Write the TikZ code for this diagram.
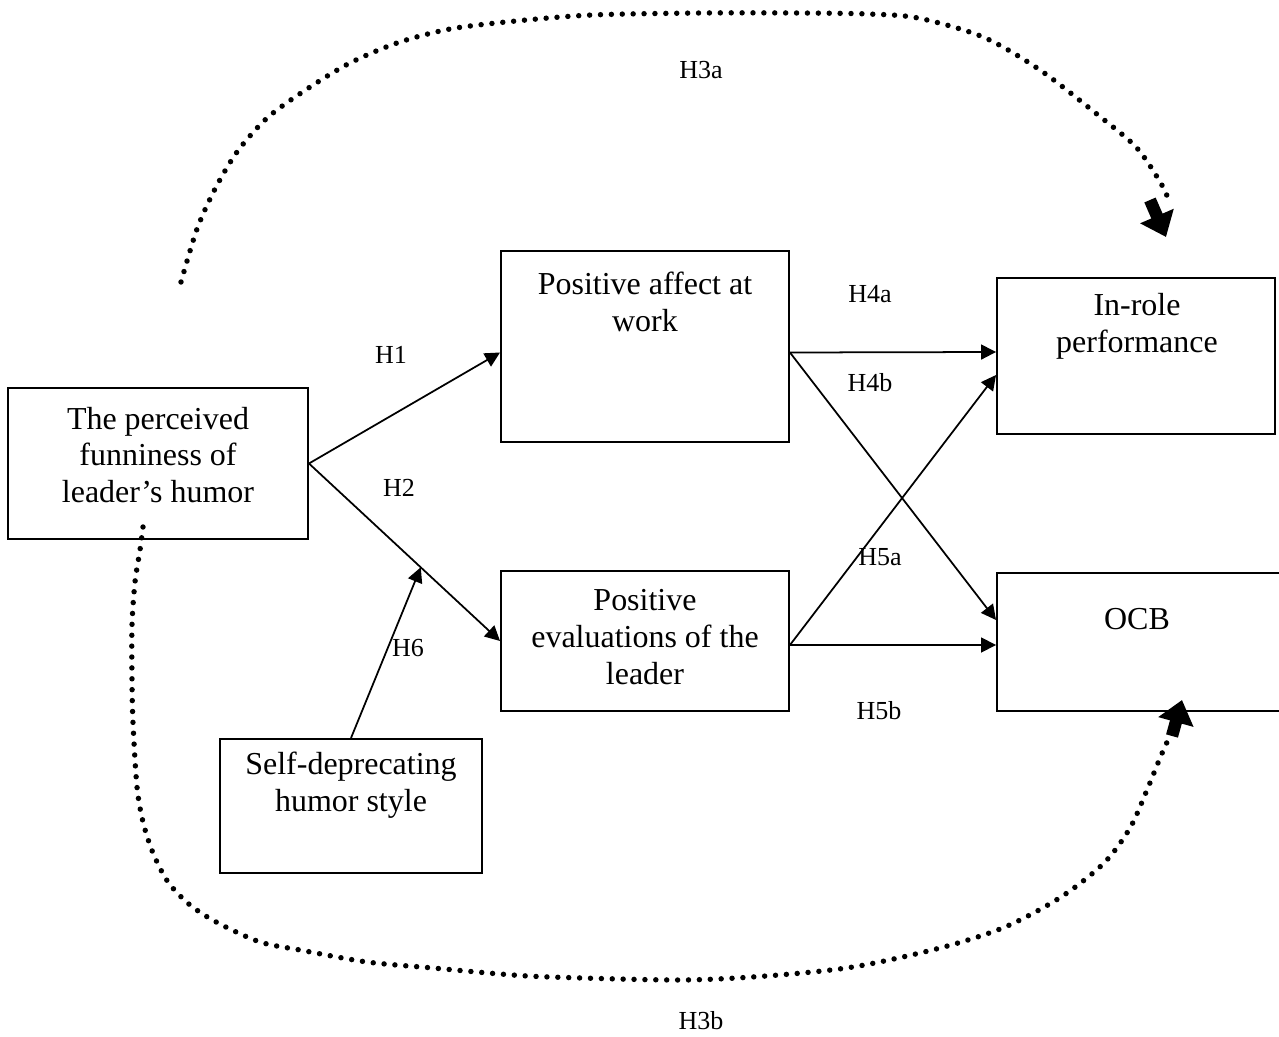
\documentclass[tikz,border=0pt]{standalone}
\usepackage{fontspec}
\setmainfont{Liberation Serif}
\usetikzlibrary{arrows.meta,fit,calc}
\begin{document}
\begin{tikzpicture}[x=0.02cm,y=-0.02cm,
  box/.style={draw,line width=1.1pt,inner sep=0pt},
  txt/.style={align=center,inner sep=0pt,font=\fontsize{18.2pt}{21pt}\selectfont},
  lab/.style={inner sep=0pt,font=\fontsize{14.8pt}{17pt}\selectfont},
  conn/.style={line width=1pt,-{Triangle[width=8.5pt,length=8.5pt]}},
  dotline/.style={line width=3.1pt,line cap=round,dash pattern=on 0pt off 6.2pt},
  fatarrow/.style={line width=7pt,-{Triangle[width=20pt,length=13pt]}}]
\useasboundingbox (0,0) rectangle (1279,1037);

% boxes
\node[box,fit={(8,388)(308,539)}] (fun) {};
\node[box,fit={(501,251)(789,442)}] (pa) {};
\node[box,fit={(501,571)(789,711)}] (pe) {};
\node[box,fit={(997,278)(1275,434)}] (ir) {};
\node[box,fit={(997,573)(1300,711)}] (ocb) {};
\node[box,fit={(220,739)(482,873)}] (se) {};

% box texts
\node[txt] (funT) at (158,455) {The perceived\\funniness of\\leader’s humor};
\node[txt] (paT) at (645,301.5) {Positive affect at\\work};
\node[txt] (peT) at (645,637) {Positive\\evaluations of the\\leader};
\node[txt] (irT) at (1137,326) {In-role\\performance};
\node[txt] (ocbT) at (1137,619) {OCB};
\node[txt] (seT) at (351,785) {Self-deprecating\\humor style};

% connectors
\coordinate (paIn) at ($(pa.west)+(0,6)$);
\coordinate (paOut) at ($(pa.east)+(0,6)$);
\coordinate (peOut) at ($(pe.east)+(0,4)$);
\coordinate (irIn1) at ($(ir.west)+(0,-4)$);
\coordinate (irIn2) at ($(ir.west)+(0,19)$);
\coordinate (ocbIn1) at ($(ocb.west)+(0,-22)$);
\coordinate (ocbIn2) at ($(ocb.west)+(0,3)$);
\coordinate (mod) at ($(fun.east)!0.585!(pe.west)$);

\draw[conn] (fun.east) -- (paIn);
\draw[conn] (fun.east) -- (pe.west);
\draw[conn] (se.north) -- (mod);
\draw[conn] (paOut) -- (irIn1);
\draw[conn] (paOut) -- (ocbIn1);
\draw[conn] (peOut) -- (irIn2);
\draw[conn] (peOut) -- (ocbIn2);

% labels
\node[lab] (l1) at (391,355) {H1};
\node[lab] (l2) at (399,488) {H2};
\node[lab] (l6) at (408,648) {H6};
\node[lab] (l4a) at (870,294) {H4a};
\node[lab] (l4b) at (870,383) {H4b};
\node[lab] (l5a) at (880,557) {H5a};
\node[lab] (l5b) at (879,711) {H5b};
\node[lab] (l3a) at (701,70) {H3a};
\node[lab] (l3b) at (701,1021) {H3b};

% dotted H3a
\coordinate (a3s) at (1150,200);
\coordinate (a3t) at (1166,237);
\draw[dotline] plot[smooth] coordinates {(181,282) (197,229) (215,189) (237,152) (266,119) (301,93) (348,64) (397,43) (450,29) (516,21) (592,15) (700,13) (800,13) (868,14) (918,18) (983,37) (1040,70) (1098,115) (1136,147) (1159,180) (1168,198)};
\draw[fatarrow] (a3s) -- (a3t);

% dotted H3b
\coordinate (b3s) at (1172,736);
\coordinate (b3t) at (1182,700);
\draw[dotline] plot[smooth] coordinates {(143,527) (140,550) (135,582) (132,625) (132,680) (133,723) (137,787) (143,822) (153,853) (168,882) (190,905) (218,923) (260,942) (300,950) (367,962) (433,968) (500,974) (550,977) (680,980) (766,976) (853,967) (940,948) (1005,927) (1061,897) (1104,863) (1130,828) (1147,790) (1160,758) (1168,740)};
\draw[fatarrow] (b3s) -- (b3t);
\end{tikzpicture}
\end{document}
